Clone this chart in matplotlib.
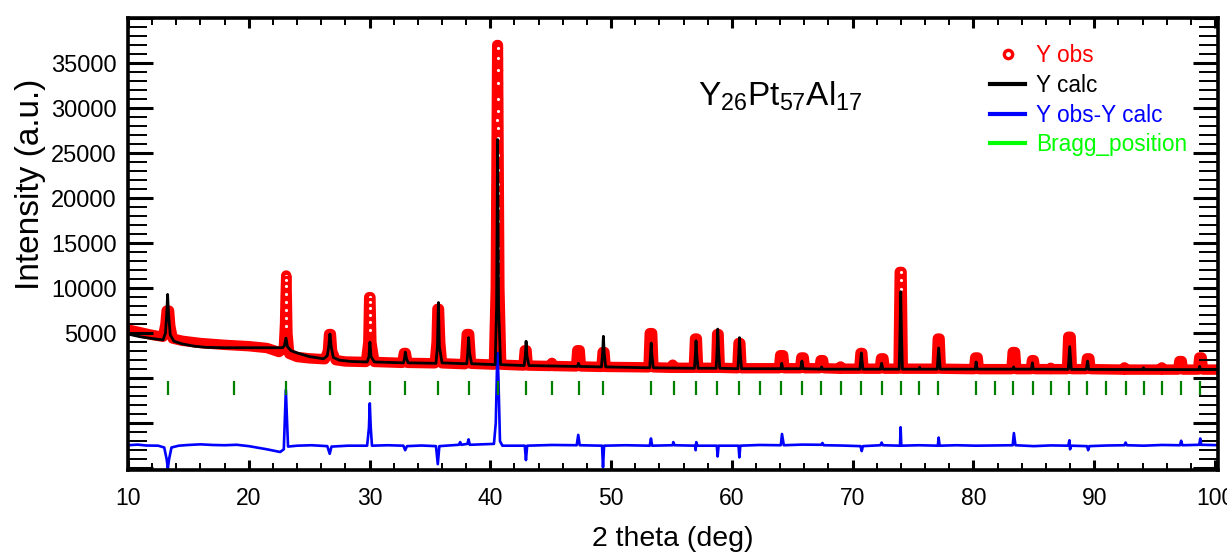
import numpy as np
import matplotlib
matplotlib.use('Agg')
import matplotlib.pyplot as plt
from matplotlib.lines import Line2D
from matplotlib.ticker import MultipleLocator, FuncFormatter

plt.rcParams['font.family'] = ['Liberation Sans', 'DejaVu Sans']
plt.rcParams['mathtext.fontset'] = 'custom'
plt.rcParams['mathtext.rm'] = 'Liberation Sans'

obs = [(9.8, 5500), (10, 5400), (11, 5100), (12, 4800), (12.9, 4600), (13.1, 6000), (13.2, 7500),
       (13.4, 7500), (13.5, 5800), (13.7, 4400), (14.5, 4150), (16, 3900), (18, 3700), (20, 3550),
       (21.5, 3350), (22.5, 2900), (22.9, 3300), (23.0, 6000), (23.05, 9000), (23.1, 11400),
       (23.15, 9000), (23.2, 5000), (23.35, 2700), (24, 2350), (25, 2200), (26.3, 2100), (26.55, 3000),
       (26.65, 4900), (26.8, 4900), (26.9, 3000), (27.2, 2000), (28, 1850), (29.7, 1800), (29.9, 4000),
       (29.97, 9000), (30.07, 9000), (30.15, 4000), (30.4, 1800), (32.7, 1700), (32.85, 2800),
       (33.0, 2800), (33.15, 1700), (35.4, 1650), (35.55, 4000), (35.62, 7700), (35.75, 7700),
       (35.85, 4000), (36.0, 1650), (37.9, 1550), (38.05, 4900), (38.25, 4900), (38.4, 1600),
       (40.3, 1500), (40.45, 10000), (40.57, 37000), (40.63, 37000), (40.75, 10000), (40.9, 1500),
       (42.75, 1400), (42.85, 3100), (43.0, 3100), (43.1, 1400), (45.0, 1350), (45.1, 1700),
       (45.2, 1350), (47.1, 1300), (47.2, 3100), (47.4, 3100), (47.5, 1300), (49.2, 1250),
       (49.3, 2900), (49.45, 2900), (49.55, 1250), (53.1, 1200), (53.2, 5000), (53.4, 5000),
       (53.5, 1200), (55.0, 1150), (55.1, 1500), (55.25, 1150), (56.85, 1150), (56.95, 4400),
       (57.1, 4400), (57.2, 1150), (58.7, 1150), (58.78, 4900), (58.9, 4900), (59.0, 1150),
       (60.45, 1100), (60.55, 3900), (60.7, 3900), (60.8, 1100), (63.9, 1100), (64.0, 2550),
       (64.25, 2550), (64.35, 1100), (65.65, 1100), (65.75, 2300), (65.95, 2300), (66.05, 1100),
       (67.25, 1100), (67.35, 2000), (67.55, 2000), (67.65, 1100), (68.9, 1050), (69.0, 1300),
       (69.1, 1050), (70.55, 1050), (70.65, 2800), (70.8, 2800), (70.9, 1050), (72.25, 1050),
       (72.35, 2200), (72.55, 2200), (72.65, 1050), (73.8, 1050), (73.9, 11800), (74.05, 11800),
       (74.15, 1050), (76.95, 1050), (77.05, 4400), (77.2, 4400), (77.3, 1050), (80.05, 1000),
       (80.15, 2300), (80.35, 2300), (80.45, 1000), (83.15, 1000), (83.25, 2900), (83.45, 2900),
       (83.55, 1000), (84.75, 1000), (84.85, 2000), (85.0, 2000), (85.1, 1000), (86.35, 1000),
       (86.4, 1150), (86.45, 1000), (87.75, 1000), (87.85, 4600), (88.05, 4600), (88.15, 1000),
       (89.3, 1000), (89.4, 2200), (89.6, 2200), (89.7, 1000), (92.4, 950), (92.5, 1200),
       (92.6, 950), (95.5, 950), (95.6, 1200), (95.7, 950), (96.95, 950), (97.05, 1900),
       (97.25, 1900), (97.35, 950), (98.6, 950), (98.7, 2300), (98.9, 2300), (99.0, 950),
       (100.5, 950)]

# single observed points visible as circles on the strong reflections
obs_pts = [(23.08, 11400), (23.08, 10900), (23.08, 10200), (23.08, 9400), (23.08, 8500),
           (23.08, 7600), (23.08, 6700), (23.08, 5800),
           (30.03, 9000), (30.03, 8500), (30.03, 7800), (30.03, 7000), (30.03, 6200), (30.03, 5300),
           (40.6, 36700), (40.6, 35600), (40.6, 34200), (40.6, 32800), (40.6, 31000), (40.6, 29700),
           (40.58, 28700), (40.6, 27800), (40.6, 26700), (40.62, 24800), (40.6, 23100),
           (40.6, 21600), (40.62, 20600), (40.6, 18900), (40.6, 17500), (40.58, 16000),
           (40.6, 14500), (40.62, 13000), (40.6, 11500),
           (73.97, 11800), (73.97, 10900), (73.97, 9900)]

# calculated pattern
calc = [(9.8, 5000), (10, 4900), (11, 4600), (12, 4400), (12.9, 4250), (13.1, 5000), (13.2, 7000),
        (13.28, 9300), (13.36, 7000), (13.5, 4800), (13.8, 4100), (14.5, 3800), (15.5, 3550),
        (16.5, 3420), (18, 3380), (20, 3380), (22.8, 3380), (22.95, 3600), (23.08, 4450),
        (23.2, 3500), (23.5, 3050), (24, 2800), (25, 2400), (26.2, 2150), (26.5, 2500), (26.62, 3500),
        (26.72, 4900), (26.82, 3500), (27.0, 2300), (27.5, 2000), (28.5, 1850), (29.8, 1800),
        (29.95, 2400), (30.03, 4000), (30.12, 2400), (30.4, 1800), (32.8, 1700), (32.9, 2200),
        (32.96, 2900), (33.05, 2200), (33.2, 1700), (35.5, 1650), (35.62, 3500), (35.7, 8400),
        (35.78, 3500), (36.0, 1700), (38.05, 1600), (38.13, 2800), (38.2, 4500), (38.28, 2800),
        (38.45, 1600), (40.4, 1500), (40.52, 8000), (40.6, 26500), (40.68, 8000), (40.85, 1500),
        (42.8, 1400), (42.9, 2500), (42.96, 4100), (43.03, 2500), (43.2, 1400), (47.2, 1300),
        (47.3, 1650), (47.4, 1300), (49.2, 1250), (49.3, 2800), (49.36, 4650), (49.43, 2800),
        (49.55, 1250), (53.2, 1150), (53.26, 2500), (53.32, 3900), (53.38, 2500), (53.5, 1150),
        (56.9, 1100), (56.97, 2500), (57.03, 4150), (57.1, 2500), (57.2, 1100), (58.7, 1100),
        (58.77, 3000), (58.83, 5450), (58.9, 3000), (59.0, 1100), (60.5, 1050), (60.57, 2700),
        (60.63, 4500), (60.7, 2700), (60.8, 1050), (64.05, 1050), (64.13, 1650), (64.21, 1050),
        (65.7, 1050), (65.8, 1900), (65.9, 1050), (67.35, 1000), (67.43, 1250), (67.5, 1000),
        (70.6, 1000), (70.66, 1900), (70.72, 2800), (70.78, 1900), (70.85, 1000), (72.3, 1000),
        (72.4, 1650), (72.5, 1000), (73.85, 1000), (73.92, 5000), (73.98, 9600), (74.04, 5000),
        (74.12, 1000), (75.5, 1000), (75.55, 1200), (75.6, 1000), (77.0, 1000), (77.06, 2200),
        (77.12, 3350), (77.18, 2200), (77.25, 1000), (80.15, 1000), (80.22, 1800), (80.3, 1000),
        (83.25, 1000), (83.33, 1250), (83.4, 1000), (84.8, 1000), (84.88, 1700), (84.95, 1000),
        (87.85, 980), (87.91, 2300), (87.97, 3500), (88.03, 2300), (88.1, 980), (89.35, 970),
        (89.45, 1900), (89.55, 970), (94.0, 960), (94.08, 1150), (94.15, 960), (98.65, 950),
        (98.73, 1300), (98.8, 950), (100.5, 950)]

# difference curve (shifted down)
diff = [(9.8, -7450), (10, -7450), (10.8, -7380), (11.5, -7480), (12.5, -7500), (13.0, -7700),
        (13.2, -9000), (13.3, -10000), (13.4, -9000), (13.6, -7700), (14.2, -7500), (15, -7420),
        (16, -7350), (17, -7420), (18, -7450), (19, -7400), (20, -7550), (21.5, -7900),
        (22.6, -8200), (22.9, -7900), (23.0, -4000), (23.07, -1300), (23.15, -4000), (23.25, -7600),
        (24, -7500), (25.2, -7450), (26.5, -7550), (26.7, -8400), (26.85, -7600), (28.2, -7500),
        (29.8, -7500), (29.95, -5500), (30.02, -2800), (30.1, -5500), (30.2, -7500), (31.5, -7450),
        (32.8, -7500), (32.95, -8000), (33.1, -7550), (34.3, -7480), (35.5, -7550), (35.65, -9550),
        (35.78, -7550), (37.4, -7400), (37.5, -7100), (37.6, -7400), (38.1, -7300), (38.2, -6800),
        (38.3, -7400), (40.3, -7300), (40.45, -5000), (40.55, 1000), (40.6, 2800), (40.67, 0),
        (40.8, -7000), (41.0, -7500), (42.85, -7500), (42.95, -9100), (43.05, -7500),
        (45.1, -7420), (47.15, -7450), (47.28, -6300), (47.4, -7450), (49.25, -7500),
        (49.33, -9900), (49.42, -7500), (51.2, -7450), (53.2, -7500), (53.3, -6700),
        (53.4, -7500), (55.1, -7450), (55.15, -7100), (55.25, -7450), (56.95, -7500),
        (57.0, -8000), (57.05, -7100), (57.15, -7500), (58.75, -7500), (58.82, -8700),
        (58.9, -7500), (60.55, -7500), (60.62, -8800), (60.7, -7500), (62.3, -7420),
        (64.05, -7450), (64.15, -6200), (64.3, -7450), (65.8, -7380), (67.4, -7400),
        (67.5, -7200), (67.6, -7450), (69.0, -7480), (70.65, -7550), (70.75, -8100),
        (70.85, -7550), (72.3, -7450), (72.4, -7150), (72.5, -7450), (73.92, -7500),
        (73.97, -5450), (74.03, -7500), (75.5, -7450), (77.05, -7500), (77.12, -6600),
        (77.2, -7500), (78.6, -7450), (80.2, -7500), (81.8, -7470), (83.25, -7450),
        (83.35, -6100), (83.48, -7450), (85.0, -7550), (86.4, -7470), (87.85, -7500),
        (87.95, -6900), (88.0, -7900), (88.1, -7500), (89.4, -7550), (89.5, -8000), (89.6, -7550),
        (91.0, -7480), (92.5, -7450), (92.6, -7150), (92.7, -7450), (94.1, -7500), (95.6, -7420),
        (97.1, -7450), (97.2, -6950), (97.3, -7450), (98.7, -7400), (98.78, -6700), (98.86, -7400),
        (100.5, -7450)]

bragg = [13.3, 18.79, 23.08, 26.72, 30.03, 32.96, 35.69, 38.23, 40.65, 42.95, 45.12, 47.33, 49.35,
         53.3, 55.2, 57.0, 58.8, 60.6, 62.35, 64.1, 65.8, 67.4, 69.0, 70.7, 72.4, 73.97, 75.5,
         77.1, 80.2, 81.8, 83.3, 84.9, 86.4, 87.9, 89.4, 91.0, 92.6, 94.1, 95.6, 97.2, 98.75]
bragg_y = -1100

obs_x, obs_y = zip(*obs)
pts_x, pts_y = zip(*obs_pts)
calc_x, calc_y = zip(*calc)
diff_x, diff_y = zip(*diff)

fig = plt.figure(figsize=(12.27, 5.53), dpi=100)
ax = fig.add_axes([128/1227, 1-470/553, 1090/1227, 452/553])

ax.plot(obs_x, obs_y, color='red', lw=7.5, solid_joinstyle='round', solid_capstyle='round', zorder=1)
ax.plot(pts_x, pts_y, ls='none', marker='o', ms=4.5, mfc='white', mec='red', mew=2.2, zorder=1.5)
ax.plot(diff_x, diff_y, color='blue', lw=1.9, zorder=2)
ax.plot(calc_x, calc_y, color='black', lw=2.0, zorder=3)
ax.plot(bragg, [bragg_y]*len(bragg), ls='none', marker='|', ms=10, mew=1.6, color='#008000', zorder=4)

ax.set_xlim(10, 100.25)
ax.set_ylim(-10200, 40000)

ax.xaxis.set_major_locator(MultipleLocator(10))
ax.xaxis.set_minor_locator(MultipleLocator(2))
ax.yaxis.set_major_locator(MultipleLocator(5000))
ax.yaxis.set_minor_locator(MultipleLocator(1000))
ax.yaxis.set_major_formatter(FuncFormatter(lambda v, p: '%d' % v if 0 < v < 40000 else ''))

ax.tick_params(which='both', direction='in', top=True, right=True, labelsize=16.5)
ax.tick_params(axis='y', which='major', length=18, width=2.2, pad=8, labelsize=17)
ax.tick_params(axis='y', which='minor', length=13.5, width=1.4)
ax.tick_params(axis='x', which='major', length=7, width=2.2, pad=12)
ax.tick_params(axis='x', which='minor', length=5, width=1.4)
for s in ax.spines.values():
    s.set_linewidth(2.6)

ax.set_xlabel('2 theta (deg)', fontsize=20.5, labelpad=12)
fig.text(30/1227, 1-184/553, 'Intensity (a.u.)', rotation=90, fontsize=24, ha='center', va='center')

ax.text((698-128)/1090, (470-105)/452, r'Y$_{26}$Pt$_{57}$Al$_{17}$',
        transform=ax.transAxes, fontsize=24, ha='left', va='baseline')

handles = [Line2D([], [], ls='none', marker='o', ms=6, mfc='none', mec='red', mew=2.4),
           Line2D([], [], color='black', lw=3),
           Line2D([], [], color='blue', lw=3),
           Line2D([], [], color='#00ff00', lw=3)]
labels = ['Y obs', 'Y calc', 'Y obs-Y calc', 'Bragg_position']
ax.legend(handles, labels, loc='upper left', bbox_to_anchor=(990/1227, 1-44/553),
          bbox_transform=fig.transFigure, frameon=False, fontsize=16.3, handlelength=1.55,
          handletextpad=0.5, labelspacing=0.3, borderpad=0, borderaxespad=0,
          labelcolor=['red', 'black', 'blue', '#00ff00'])

fig.savefig('out.png', dpi=100)
